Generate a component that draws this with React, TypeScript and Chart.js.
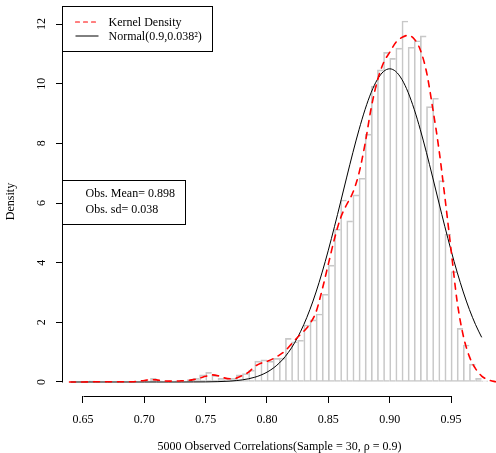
import React, { useEffect, useRef } from 'react';
import { Chart, registerables } from 'chart.js';

Chart.register(...registerables);

// ---------- data ----------
const BREAK_START = 0.65;
const BIN_WIDTH = 0.005;
// histogram densities for bins [0.650,0.655), [0.655,0.660), ... [0.975,0.980)
const histDensity = [
  0, 0.04, 0, 0, 0, 0, 0, 0, 0, 0,
  0.04, 0.12, 0.04, 0, 0.04, 0.04, 0.04, 0.08, 0.12, 0.24,
  0.32, 0.22, 0.12, 0.08, 0.12, 0.24, 0.28, 0.4, 0.7, 0.74,
  0.7, 0.79, 0.8, 1.46, 1.35, 1.4, 1.91, 2.08, 2.28, 2.94,
  3.92, 5.12, 6.1, 5.4, 6.27, 6.83, 8.31, 9.92, 10.46, 11.05,
  10.85, 11.19, 12.1, 11.22, 11.44, 11.6, 9.23, 9.51, 6.75, 4.96,
  3.7, 1.8, 1.24, 0.6, 0.12, 0.04,
];

const kdeX = [
  0.639, 0.65, 0.66, 0.67, 0.68, 0.69, 0.695, 0.7, 0.705, 0.71,
  0.715, 0.72, 0.725, 0.73, 0.735, 0.74, 0.745, 0.75, 0.755, 0.76,
  0.765, 0.77, 0.775, 0.78, 0.785, 0.79, 0.795, 0.8, 0.805, 0.81,
  0.815, 0.82, 0.825, 0.83, 0.835, 0.84, 0.845, 0.85, 0.855, 0.86,
  0.865, 0.87, 0.875, 0.88, 0.885, 0.89, 0.895, 0.9, 0.905, 0.91,
  0.915, 0.92, 0.925, 0.93, 0.935, 0.94, 0.945, 0.95, 0.955, 0.96,
  0.965, 0.97, 0.975, 0.98, 0.985, 0.99, 0.995,
];
const kdeY = [
  0, 0, 0.01, 0.01, 0.01, 0.01, 0.03, 0.05, 0.08, 0.07,
  0.04, 0.03, 0.03, 0.04, 0.05, 0.08, 0.13, 0.19, 0.24, 0.21,
  0.14, 0.11, 0.13, 0.22, 0.33, 0.52, 0.63, 0.69, 0.78, 0.9,
  1.05, 1.28, 1.5, 1.7, 1.95, 2.35, 3.1, 3.95, 4.8, 5.5,
  5.95, 6.35, 7.0, 8.0, 9.2, 10.1, 10.7, 11.05, 11.38, 11.55,
  11.62, 11.5, 11.13, 10.4, 9.2, 7.85, 6.2, 4.45, 2.7, 1.55,
  0.85, 0.45, 0.2, 0.08, 0.02, 0, 0,
];

const normX = [
  0.64, 0.65, 0.66, 0.67, 0.68, 0.69, 0.7, 0.71, 0.72, 0.73,
  0.74, 0.75, 0.76, 0.77, 0.78, 0.785, 0.79, 0.795, 0.8, 0.805,
  0.81, 0.815, 0.82, 0.825, 0.83, 0.835, 0.84, 0.845, 0.85, 0.855,
  0.86, 0.865, 0.87, 0.875, 0.88, 0.885, 0.89, 0.895, 0.9, 0.905,
  0.91, 0.915, 0.92, 0.925, 0.93, 0.935, 0.94, 0.945, 0.95, 0.955,
  0.96, 0.965, 0.97, 0.975,
];
const normY = [
  0, 0, 0, 0, 0, 0, 0, 0, 0, 0,
  0.002, 0.004, 0.012, 0.03, 0.072, 0.108, 0.159, 0.231, 0.329, 0.461,
  0.635, 0.86, 1.145, 1.497, 1.924, 2.43, 3.017, 3.683, 4.418, 5.207,
  6.033, 6.869, 7.688, 8.455, 9.141, 9.712, 10.141, 10.408, 10.498, 10.408,
  10.141, 9.712, 9.141, 8.455, 7.688, 6.869, 6.033, 5.207, 4.418, 3.683,
  3.017, 2.43, 1.924, 1.497,
];

const xTicks = [0.65, 0.7, 0.75, 0.8, 0.85, 0.9, 0.95];
const xTickLabels = ['0.65', '0.70', '0.75', '0.80', '0.85', '0.90', '0.95'];
const yTicks = [0, 2, 4, 6, 8, 10, 12];
const yTickLabels = ['0', '2', '4', '6', '8', '10', '12'];

const legendLabels = ['Kernel Density', 'Normal(0.9,0.038\u00B2)'];
const statsLabels = ['Obs. Mean= 0.898', 'Obs. sd= 0.038'];
const xTitle = '5000 Observed Correlations(Sample = 30, \u03C1 = 0.9)';
const yTitle = 'Density';

// ---------- style ----------
const FONT_FAMILY = '"Liberation Serif", "DejaVu Serif", serif';
const FONT = `12px ${FONT_FAMILY}`;

const rPlugin = {
  id: 'rStyle',
  afterDraw(chart: any) {
    const { ctx, chartArea, scales } = chart;
    const x = scales.x;
    const y = scales.y;
    ctx.save();
    ctx.strokeStyle = '#000';
    ctx.lineWidth = 1;
    ctx.setLineDash([]);
    // x axis line (R style, from first to last tick)
    const by = Math.round(chartArea.bottom) + 0.5;
    ctx.beginPath();
    ctx.moveTo(Math.round(x.getPixelForValue(xTicks[0])) + 0.5, by);
    ctx.lineTo(Math.round(x.getPixelForValue(xTicks[xTicks.length - 1])) + 0.5, by);
    ctx.stroke();
    // y axis line
    const lx = Math.round(chartArea.left) - 0.5;
    ctx.beginPath();
    ctx.moveTo(lx, Math.round(y.getPixelForValue(yTicks[0])) + 0.5);
    ctx.lineTo(lx, Math.round(y.getPixelForValue(yTicks[yTicks.length - 1])) + 0.5);
    ctx.stroke();

    // legend 1 (top-left)
    const l1x = lx;
    const l1y = Math.round(chartArea.top) - 0.5;
    ctx.fillStyle = '#fff';
    ctx.fillRect(l1x, l1y, 150, 45);
    ctx.strokeRect(l1x, l1y, 150, 45);
    ctx.font = FONT;
    ctx.textBaseline = 'middle';
    ctx.textAlign = 'left';
    // row 1: red dashed
    ctx.strokeStyle = '#ff0000';
    ctx.lineWidth = 1.1;
    ctx.lineCap = 'round';
    ctx.setLineDash([4, 4]);
    ctx.beginPath();
    ctx.moveTo(l1x + 13, l1y + 15.5);
    ctx.lineTo(l1x + 36, l1y + 15.5);
    ctx.stroke();
    ctx.setLineDash([]);
    ctx.lineCap = 'butt';
    ctx.strokeStyle = '#000';
    ctx.lineWidth = 1;
    ctx.beginPath();
    ctx.moveTo(l1x + 13, l1y + 29.5);
    ctx.lineTo(l1x + 36, l1y + 29.5);
    ctx.stroke();
    ctx.fillStyle = '#000';
    ctx.fillText(legendLabels[0], l1x + 46, l1y + 16);
    ctx.fillText(legendLabels[1], l1x + 46, l1y + 30);

    // legend 2 (left, centred vertically)
    const midY = (chartArea.top + chartArea.bottom) / 2;
    const l2y = Math.round(midY - 22) + 0.5;
    ctx.fillStyle = '#fff';
    ctx.fillRect(lx, l2y, 123, 44);
    ctx.strokeRect(lx, l2y, 123, 44);
    ctx.fillStyle = '#000';
    ctx.fillText(statsLabels[0], lx + 23, l2y + 13.5);
    ctx.fillText(statsLabels[1], lx + 23, l2y + 29.5);
    ctx.restore();
  },
};

export default function App() {
  const ref = useRef<HTMLCanvasElement | null>(null);

  useEffect(() => {
    if (!ref.current) return;
    const binCenters = histDensity.map((_, i) => BREAK_START + BIN_WIDTH * (i + 0.5));
    const last = histDensity.length - 1;
    const chart = new Chart(ref.current, {
      type: 'bar',
      data: {
        datasets: [
          {
            type: 'line',
            label: legendLabels[0],
            data: kdeX.map((v, i) => ({ x: v, y: kdeY[i] })),
            borderColor: '#ff0000',
            borderWidth: 1.6,
            borderDash: [6, 6],
            borderCapStyle: 'round',
            pointRadius: 0,
            cubicInterpolationMode: 'monotone',
            fill: false,
            order: 1,
          } as any,
          {
            type: 'line',
            label: legendLabels[1],
            data: normX.map((v, i) => ({ x: v, y: normY[i] })),
            borderColor: '#000',
            borderWidth: 1,
            pointRadius: 0,
            cubicInterpolationMode: 'monotone',
            fill: false,
            order: 2,
          } as any,
          {
            type: 'bar',
            label: 'hist',
            data: binCenters.map((v, i) => ({ x: v, y: histDensity[i] })),
            backgroundColor: 'rgba(0,0,0,0)',
            borderColor: '#c8c8c8',
            borderWidth: (c: any) => ({ top: 1, left: 1, bottom: 1, right: c.dataIndex === last ? 1 : 0 }),
            borderSkipped: false,
            barPercentage: 1,
            categoryPercentage: 1,
            order: 3,
          } as any,
        ],
      },
      options: {
        responsive: false,
        animation: false,
        devicePixelRatio: 1,
        layout: { padding: { top: 7, left: 0, right: 0, bottom: 0 } },
        plugins: { legend: { display: false }, tooltip: { enabled: false } },
        scales: {
          x: {
            type: 'linear',
            min: 0.6337,
            max: 0.98668,
            offset: false,
            afterBuildTicks: (s: any) => {
              s.ticks = xTicks.map((v) => ({ value: v }));
            },
            afterFit: (s: any) => {
              s.height = 57;
              s.paddingLeft = 0;
              s.paddingRight = 0;
            },
            grid: { display: true, drawOnChartArea: false, drawTicks: true, tickLength: 7, color: '#000', lineWidth: 1, offset: false },
            border: { display: false },
            ticks: {
              autoSkip: false,
              maxRotation: 0,
              minRotation: 0,
              padding: 11,
              color: '#000',
              font: { family: FONT_FAMILY, size: 12, lineHeight: 1 },
              callback: (_v: any, i: number) => xTickLabels[i],
            },
            title: {
              display: true,
              text: xTitle,
              color: '#000',
              font: { family: FONT_FAMILY, size: 12, lineHeight: 1 },
              padding: { top: 0, bottom: 0 },
            },
          },
          y: {
            type: 'linear',
            min: -0.4693,
            max: 12.57,
            afterBuildTicks: (s: any) => {
              s.ticks = yTicks.map((v) => ({ value: v }));
            },
            afterFit: (s: any) => {
              s.width = 63;
              s.paddingTop = 0;
              s.paddingBottom = 0;
            },
            grid: { display: true, drawOnChartArea: false, drawTicks: true, tickLength: 7, color: '#000', lineWidth: 1 },
            border: { display: false },
            ticks: {
              autoSkip: false,
              minRotation: 90,
              maxRotation: 90,
              crossAlign: 'center',
              padding: 8,
              color: '#000',
              font: { family: FONT_FAMILY, size: 12, lineHeight: 1 },
              callback: (_v: any, i: number) => yTickLabels[i],
            },
            title: {
              display: true,
              text: yTitle,
              color: '#000',
              font: { family: FONT_FAMILY, size: 12, lineHeight: 1.2 },
              padding: { top: 4, bottom: 0 },
            },
          },
        },
      } as any,
      plugins: [rPlugin],
    });
    return () => chart.destroy();
  }, []);

  return (
    <div style={{ position: 'fixed', left: 0, top: 0, width: 496, height: 453, background: '#fff' }}>
      <canvas ref={ref} width={496} height={453} style={{ width: 496, height: 453, display: 'block' }} />
    </div>
  );
}
